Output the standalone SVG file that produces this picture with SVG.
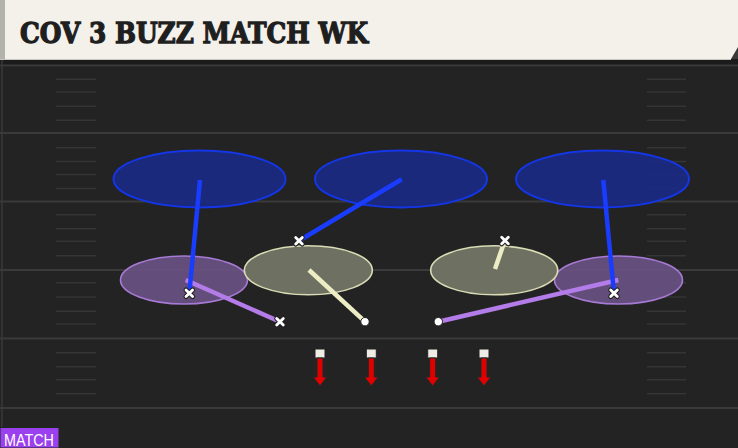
<svg xmlns="http://www.w3.org/2000/svg" width="738" height="448" viewBox="0 0 738 448">
<defs>
<style>
.yard{stroke:#3a3a3a;stroke-width:2}
.hash{stroke:#353535;stroke-width:1.5}
.deep{fill:#1a2a84;fill-opacity:0.92;stroke:#1436e6;stroke-width:2}
.curl{fill:#67507f;fill-opacity:0.95;stroke:#a77ad6;stroke-width:1.6}
.hook{fill:#6e7061;stroke:#d9dcb4;stroke-width:1.6}
.lb{stroke:#1a3cff;stroke-width:4.5;stroke-linecap:butt}
.lp{stroke:#b37ce8;stroke-width:4.5}
.lo{stroke:#ecedc4;stroke-width:4.5}
.xo{stroke:#222;stroke-width:5;stroke-linecap:round}
.xi{stroke:#fff;stroke-width:2.8;stroke-linecap:round}
.dot{fill:#fff;stroke:#222;stroke-width:1}
.ol{fill:#efece6;stroke:#222;stroke-width:1}
.arr{fill:#e00000;stroke:#1a2a2a;stroke-width:1}
</style>
<g id="xm"><path class="xo" d="M-3.3,-3.3L3.3,3.3M3.3,-3.3L-3.3,3.3"/><path class="xi" d="M-3.3,-3.3L3.3,3.3M3.3,-3.3L-3.3,3.3"/></g>
<g id="ln"><rect class="ol" x="-5" y="0" width="10" height="9"/><path class="arr" d="M-3,9H3V28H7L0,37L-7,28H-3Z"/></g>
</defs>
<rect width="738" height="448" fill="#232323"/>
<rect x="0" y="59" width="738" height="8" fill="#1b1b1b"/>
<g id="field">
<line x1="2" y1="60" x2="2" y2="428" stroke="#3a3a3a" stroke-width="1.5"/>
<line class="yard" x1="0" y1="65.5" x2="738" y2="65.5"/>
<line class="yard" x1="0" y1="133" x2="738" y2="133"/>
<line class="yard" x1="0" y1="201.5" x2="738" y2="201.5"/>
<line class="yard" x1="0" y1="270" x2="738" y2="270"/>
<line class="yard" x1="0" y1="338.5" x2="738" y2="338.5"/>
<line class="yard" x1="0" y1="408" x2="738" y2="408"/>
<g id="hashL">
<path class="hash" d="M56,79.3H96M56,92H96M56,106.3H96M56,120.3H96M56,147.7H96M56,161.5H96M56,174.5H96M56,188.5H96M56,214.7H96M56,228.7H96M56,241.3H96M56,255.7H96M56,282.7H96M56,297H96M56,311.3H96M56,324H96M56,352.7H96M56,366.7H96M56,379.7H96M56,393.7H96"/>
</g>
<g id="hashR">
<path class="hash" d="M647,79.3H686M647,92H686M647,106.3H686M647,120.3H686M647,147.7H686M647,161.5H686M647,174.5H686M647,188.5H686M647,214.7H686M647,228.7H686M647,241.3H686M647,255.7H686M647,282.7H686M647,297H686M647,311.3H686M647,324H686M647,352.7H686M647,366.7H686M647,379.7H686M647,393.7H686"/>
</g>
</g>
<g id="header">
<rect x="0" y="0" width="738" height="59" fill="#f4f1eb"/>
<rect x="0" y="0" width="5" height="59" fill="#b4b2ac"/>
<path d="M738,47L731,59H738Z" fill="#3a3a3a"/>
<line x1="0" y1="59.5" x2="731" y2="59.5" stroke="#c8c6c0" stroke-width="1"/>
<text x="20" y="43" font-family="'DejaVu Serif', serif" font-weight="bold" font-size="28" fill="#1f1f1f" stroke="#1f1f1f" stroke-width="1.3" textLength="348" lengthAdjust="spacingAndGlyphs">COV 3 BUZZ MATCH WK</text>
</g>
<g id="zone-deep-left"><ellipse class="deep" cx="199.5" cy="179" rx="86" ry="28.5"/></g>
<g id="zone-deep-middle"><ellipse class="deep" cx="401" cy="179" rx="86" ry="28.5"/></g>
<g id="zone-deep-right"><ellipse class="deep" cx="602.5" cy="179" rx="86.5" ry="28.5"/></g>
<g id="zone-curl-left"><ellipse class="curl" cx="184" cy="280" rx="63.5" ry="24"/></g>
<g id="zone-curl-right"><ellipse class="curl" cx="618.5" cy="280" rx="64" ry="24"/></g>
<g id="zone-hook-left"><ellipse class="hook" cx="308.3" cy="270.3" rx="64" ry="24.5"/></g>
<g id="zone-hook-right"><ellipse class="hook" cx="494.2" cy="270.3" rx="63.5" ry="24.5"/></g>
<g id="connectors">
<line class="lp" x1="185.7" y1="280" x2="280" y2="321.7"/>
<line class="lp" x1="618.3" y1="280" x2="438.3" y2="321.7"/>
<line class="lb" x1="200" y1="180" x2="189.3" y2="293.3"/>
<line class="lb" x1="401.7" y1="179.3" x2="299" y2="240.7"/>
<line class="lb" x1="603.3" y1="180" x2="614" y2="293.3"/>
<line class="lo" x1="309" y1="270" x2="365" y2="321.7"/>
<line class="lo" x1="495" y1="269" x2="505" y2="240"/>
</g>
<g id="defenders">
<use href="#xm" x="189.3" y="293.3"/>
<use href="#xm" x="280" y="321.7"/>
<use href="#xm" x="299" y="240.7"/>
<use href="#xm" x="505" y="240.5"/>
<use href="#xm" x="614" y="293.3"/>
<circle class="dot" cx="365" cy="321.7" r="4.2"/>
<circle class="dot" cx="438.3" cy="321.7" r="4.2"/>
</g>
<g id="linemen">
<use href="#ln" x="320" y="349"/>
<use href="#ln" x="371.3" y="349"/>
<use href="#ln" x="432.7" y="349"/>
<use href="#ln" x="484" y="349"/>
</g>
<g id="tag">
<rect x="0" y="427.5" width="59" height="20.5" fill="#9b40ee" stroke="#1a2a1a" stroke-width="1"/>
<text x="4" y="445.5" font-family="'Liberation Sans', sans-serif" font-size="17" fill="#ffffff" textLength="50" lengthAdjust="spacingAndGlyphs">MATCH</text>
</g>
</svg>
